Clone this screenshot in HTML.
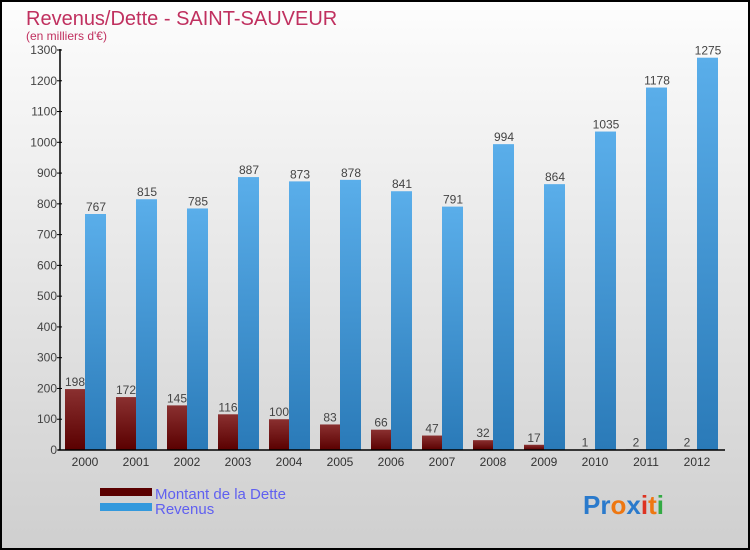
<!DOCTYPE html>
<html><head><meta charset="utf-8"><style>
body{margin:0;}
svg{display:block;font-family:"Liberation Sans",sans-serif;}
</style></head><body>
<svg id="chart" width="750" height="550" xmlns="http://www.w3.org/2000/svg">
<defs>
<linearGradient id="bg" x1="0" y1="0" x2="0" y2="1"><stop offset="0" stop-color="#fdfdfd"/><stop offset="1" stop-color="#cfcfcf"/></linearGradient>
<linearGradient id="gd" x1="0" y1="0" x2="0" y2="1"><stop offset="0" stop-color="#8a3030"/><stop offset="1" stop-color="#5a0000"/></linearGradient>
<linearGradient id="gr" x1="0" y1="0" x2="0" y2="1"><stop offset="0" stop-color="#5aaeea"/><stop offset="1" stop-color="#2a7ab8"/></linearGradient>
</defs>
<rect x="1" y="1" width="748" height="548" fill="url(#bg)" stroke="#000" stroke-width="2"/>
<text x="26" y="25" font-size="20" fill="#c0305f">Revenus/Dette - SAINT-SAUVEUR</text>
<text x="26" y="40" font-size="12" fill="#c0305f">(en milliers d'€)</text>
<g id="plot"></g>
<rect x="100" y="488" width="52" height="8" fill="#5a0000"/>
<text x="155" y="499" font-size="15" fill="#6060f0">Montant de la Dette</text>
<rect x="100" y="503" width="52" height="8" fill="#3399dd"/>
<text x="155" y="514" font-size="15" fill="#6060f0">Revenus</text>
<text x="583" y="514" font-size="26" font-weight="bold"><tspan fill="#2a7acc">Pr</tspan><tspan fill="#ee7711">o</tspan><tspan fill="#2a7acc">x</tspan><tspan fill="#dd3322">i</tspan><tspan fill="#ee7711">t</tspan><tspan fill="#33aa44">i</tspan></text>
</svg>
<script>
const years=["2000","2001","2002","2003","2004","2005","2006","2007","2008","2009","2010","2011","2012"];
const dette=[198,172,145,116,100,83,66,47,32,17,1,2,2];
const revenus=[767,815,785,887,873,878,841,791,994,864,1035,1178,1275];
const yTicks=[0,100,200,300,400,500,600,700,800,900,1000,1100,1200,1300];
const NS="http://www.w3.org/2000/svg";
const g=document.getElementById('plot');
const y=v=>450-v*400/1300;
const gx=i=>65+51*i;
function mk(t,a,txt){const e=document.createElementNS(NS,t);for(const k in a)e.setAttribute(k,a[k]);if(txt!==undefined)e.textContent=txt;g.appendChild(e);return e;}
years.forEach((yr,i)=>{
 const hd=450-y(dette[i]);
 let e=mk('rect',{x:gx(i),y:y(dette[i]),width:20,height:hd,fill:'url(#gd)'});
 
 
 e=mk('rect',{x:gx(i)+20,y:y(revenus[i]),width:21,height:450-y(revenus[i]),fill:'url(#gr)'});
 
 
 e=mk('text',{x:gx(i)+10,y:y(dette[i])-3,'font-size':12,fill:'#444','text-anchor':'middle'},dette[i]);
 
 
 e=mk('text',{x:gx(i)+31,y:y(revenus[i])-3,'font-size':12,fill:'#444','text-anchor':'middle'},revenus[i]);
 
 
 e=mk('text',{x:gx(i)+20,y:466,'font-size':12,fill:'#333','text-anchor':'middle'},yr);
 
 
});
yTicks.forEach(v=>{
 let e=mk('line',{x1:57,x2:62,y1:y(v),y2:y(v),stroke:'#000'});
 
 
 e=mk('text',{x:57,y:y(v)+4,'font-size':12,fill:'#444','text-anchor':'end'},v);
 
 
});
let ax=mk('line',{x1:60,x2:60,y1:49,y2:450,stroke:'#000','stroke-width':1.5});


ax=mk('line',{x1:58,x2:725,y1:450,y2:450,stroke:'#000','stroke-width':1.5});


</script>
</body></html>
